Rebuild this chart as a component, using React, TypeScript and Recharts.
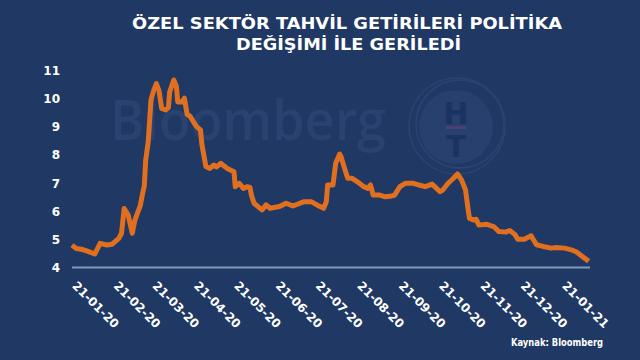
import { LineChart, Line, XAxis, YAxis } from "recharts";

// Özel sektör tahvil getirileri (%), Bloomberg
const dates = [
  "2020-01-21", "2020-01-24", "2020-01-28", "2020-02-01", "2020-02-07", "2020-02-11",
  "2020-02-16", "2020-02-20", "2020-02-25", "2020-02-27", "2020-02-29", "2020-03-03",
  "2020-03-06", "2020-03-08", "2020-03-10", "2020-03-12", "2020-03-14", "2020-03-15",
  "2020-03-16", "2020-03-18", "2020-03-20", "2020-03-22", "2020-03-24", "2020-03-26",
  "2020-03-28", "2020-03-31", "2020-04-02", "2020-04-03", "2020-04-06", "2020-04-08",
  "2020-04-09", "2020-04-12", "2020-04-14", "2020-04-16", "2020-04-18", "2020-04-23",
  "2020-04-26", "2020-04-27", "2020-04-30", "2020-05-03", "2020-05-06", "2020-05-08",
  "2020-05-11", "2020-05-16", "2020-05-21", "2020-05-22", "2020-05-25", "2020-05-28",
  "2020-05-31", "2020-06-02", "2020-06-03", "2020-06-05", "2020-06-08", "2020-06-11",
  "2020-06-14", "2020-06-17", "2020-06-24", "2020-06-29", "2020-07-04", "2020-07-12",
  "2020-07-18", "2020-07-22", "2020-07-27", "2020-07-29", "2020-07-30", "2020-08-03",
  "2020-08-05", "2020-08-08", "2020-08-09", "2020-08-12", "2020-08-14", "2020-08-17",
  "2020-08-21", "2020-08-26", "2020-08-29", "2020-08-31", "2020-09-02", "2020-09-07",
  "2020-09-11", "2020-09-16", "2020-09-18", "2020-09-22", "2020-09-26", "2020-10-02",
  "2020-10-06", "2020-10-11", "2020-10-16", "2020-10-18", "2020-10-22", "2020-10-24",
  "2020-10-28", "2020-11-01", "2020-11-04", "2020-11-07", "2020-11-10", "2020-11-12",
  "2020-11-13", "2020-11-16", "2020-11-18", "2020-11-20", "2020-11-26", "2020-12-01",
  "2020-12-05", "2020-12-10", "2020-12-13", "2020-12-17", "2020-12-19", "2020-12-24",
  "2020-12-29", "2021-01-02", "2021-01-07", "2021-01-13", "2021-01-17", "2021-01-23",
  "2021-01-28", "2021-02-01", "2021-02-05", "2021-02-10",
];

const yields = [
  4.8, 4.68, 4.65, 4.59, 4.48, 4.86,
  4.8, 4.83, 5.04, 5.22, 6.1, 5.87,
  5.22, 5.69, 5.95, 6.2, 6.7, 6.9,
  7.8, 8.5, 9.97, 10.3, 10.55, 10.3,
  9.67, 9.61, 9.7, 10.26, 10.68, 10.45,
  9.9, 9.9, 10.03, 9.45, 9.4, 9.02,
  8.9, 8.4, 7.6, 7.53, 7.65, 7.58,
  7.71, 7.53, 7.41, 6.88, 7.0, 6.82,
  6.88, 6.85, 6.58, 6.29, 6.17, 6.05,
  6.23, 6.11, 6.17, 6.29, 6.19, 6.34,
  6.34, 6.23, 6.11, 6.34, 6.94, 6.94,
  7.71, 8.04, 7.95, 7.47, 7.18, 7.18,
  7.06, 6.88, 6.82, 6.94, 6.58, 6.58,
  6.52, 6.55, 6.58, 6.88, 7.0, 7.0,
  6.94, 6.88, 6.97, 6.88, 6.7, 6.76,
  7.0, 7.18, 7.33, 7.12, 6.76, 6.05,
  5.75, 5.69, 5.72, 5.51, 5.54, 5.46,
  5.28, 5.26, 5.32, 5.17, 5.01, 5.01,
  5.13, 4.81, 4.75, 4.69, 4.71, 4.69,
  4.63, 4.55, 4.4, 4.22,
];

const xTickDates = [
  "2020-01-21", "2020-02-21", "2020-03-21", "2020-04-21", "2020-05-21", "2020-06-21",
  "2020-07-21", "2020-08-21", "2020-09-21", "2020-10-21", "2020-11-21", "2020-12-21",
  "2021-01-21",
];
const yTicks = [4, 5, 6, 7, 8, 9, 10, 11];

const toTime = (d: string) => new Date(d + "T00:00:00Z").getTime();

const data = dates.map((d, i) => ({ t: toTime(d), value: yields[i] }));
const xTicks = xTickDates.map(toTime);
const xDomain = [toTime("2020-01-21"), toTime("2021-02-11")];

const BG = "#1f3864";
const FONT = "'DejaVu Sans', Verdana, sans-serif";

const fmtDate = (t: number) => {
  const d = new Date(t);
  const dd = String(d.getUTCDate()).padStart(2, "0");
  const mm = String(d.getUTCMonth() + 1).padStart(2, "0");
  const yy = String(d.getUTCFullYear()).slice(2);
  return `${dd}-${mm}-${yy}`;
};

const DateTick = ({ x, y, payload }: any) => {
  const ax = x - 0.5;
  const ay = y + 19;
  return (
    <text
      x={ax}
      y={ay}
      transform={`rotate(45 ${ax} ${ay})`}
      textAnchor="start"
      fill="#ffffff"
      fontSize={12}
      fontWeight="bold"
      fontFamily={FONT}
    >
      {fmtDate(payload.value)}
    </text>
  );
};

export default function App() {
  return (
    <div style={{ position: "relative", width: 640, height: 360, background: BG, overflow: "hidden" }}>
      <style>{`body{margin:0}`}</style>

      {/* watermark */}
      <svg width={640} height={360} style={{ position: "absolute", left: 0, top: 0 }}>
        <text
          x={110}
          y={140}
          fontSize={56}
          fontWeight={600}
          fontFamily="'Open Sans', Lato, sans-serif"
          fill="#2a426f"
          textLength={276}
          lengthAdjust="spacingAndGlyphs"
        >
          Bloomberg
        </text>
        <circle cx={457} cy={126} r={48} fill="none" stroke="#2a4372" strokeWidth={1.5} />
        <circle cx={460} cy={124} r={44} fill="none" stroke="#2a4372" strokeWidth={1.5} />
        <circle cx={456} cy={127} r={37} fill="#27406d" />
        <text x={456} y={124} textAnchor="middle" fontSize={30} fontWeight="bold" fontFamily={FONT} fill="#1c3361">
          H
        </text>
        <rect x={446} y={126} width={20} height={3} fill="#4a3f70" />
        <text x={456} y={157} textAnchor="middle" fontSize={30} fontWeight="bold" fontFamily={FONT} fill="#1c3361">
          T
        </text>
      </svg>

      <div style={{ position: "absolute", left: 0, top: 0 }}>
        <LineChart width={640} height={360} data={data} margin={{ top: 71, right: 50, bottom: 0, left: 0 }}>
          <XAxis
            dataKey="t"
            type="number"
            domain={xDomain}
            ticks={xTicks}
            interval={0}
            height={92.5}
            tickLine={false}
            tickSize={0}
            tickMargin={0}
            axisLine={{ stroke: "#8497b8", strokeWidth: 2 }}
            tick={<DateTick />}
          />
          <YAxis
            domain={[4, 11]}
            ticks={yTicks}
            width={72}
            axisLine={false}
            tickLine={false}
            tickSize={0}
            tickMargin={12}
            tick={{ fill: "#ffffff", fontSize: 12, fontWeight: "bold", fontFamily: FONT }}
          />
          <Line
            type="linear"
            dataKey="value"
            stroke="#e0701f"
            strokeWidth={5}
            strokeLinejoin="round"
            dot={false}
            isAnimationActive={false}
          />
        </LineChart>
      </div>

      {/* title and source */}
      <svg width={640} height={360} style={{ position: "absolute", left: 0, top: 0, pointerEvents: "none" }}>
        <text
          x={347}
          y={29}
          textAnchor="middle"
          fontSize={16}
          fontWeight="bold"
          fontFamily={FONT}
          fill="#ffffff"
          textLength={430}
          lengthAdjust="spacingAndGlyphs"
        >
          ÖZEL SEKTÖR TAHVİL GETİRİLERİ POLİTİKA
        </text>
        <text
          x={348.5}
          y={50}
          textAnchor="middle"
          fontSize={16}
          fontWeight="bold"
          fontFamily={FONT}
          fill="#ffffff"
          textLength={225}
          lengthAdjust="spacingAndGlyphs"
        >
          DEĞİŞİMİ İLE GERİLEDİ
        </text>
        <text
          x={603}
          y={346}
          textAnchor="end"
          fontSize={10}
          fontWeight="bold"
          fontFamily={FONT}
          fill="#ffffff"
          textLength={92}
          lengthAdjust="spacingAndGlyphs"
        >
          Kaynak: Bloomberg
        </text>
      </svg>
    </div>
  );
}
